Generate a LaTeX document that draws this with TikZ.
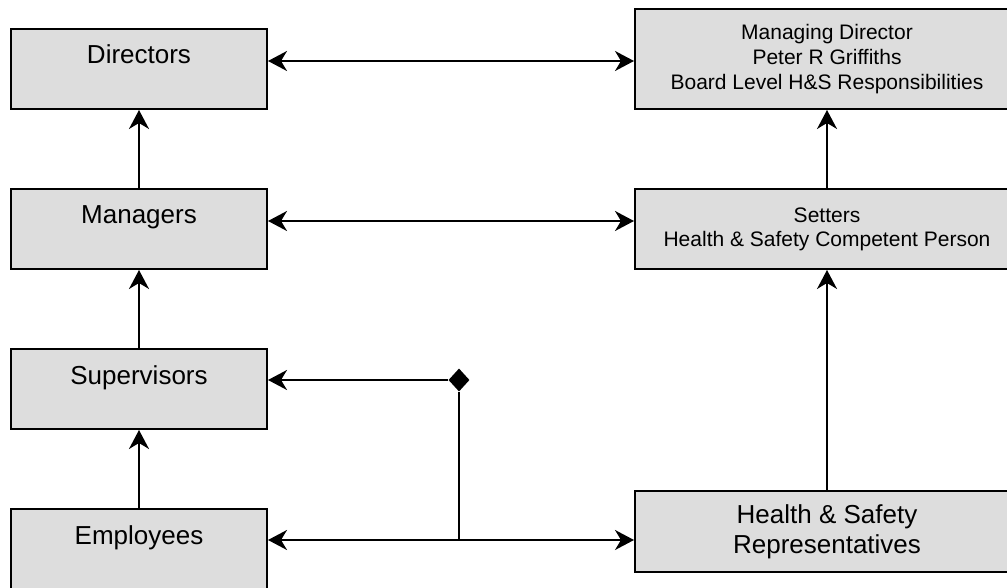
\documentclass[tikz,border=0pt]{standalone}
\usepackage{fontspec}
\setmainfont{Liberation Sans}
\usetikzlibrary{arrows.meta,shapes.geometric}
\definecolor{boxfill}{RGB}{221,221,221}
\begin{document}
\begin{tikzpicture}[x=1pt,y=-1pt,
  box/.style={draw=black, line width=2pt, fill=boxfill, inner sep=0pt, align=center},
  lbox/.style={box, minimum width=256pt, text height=35pt, text depth=45pt, font=\fontsize{26}{30}\selectfont},
  rbox/.style={box, minimum width=384pt},
  conn/.style={line width=2pt, draw=black},
  >={Stealth[length=19pt,width=20pt,inset=6pt]}]
\useasboundingbox (0,0) rectangle (1007,588);
\clip (0,0) rectangle (1007,588);
% left column
\node[lbox] (dir) at (139,69) {Directors};
\node[lbox] (man) at (139,229) {Managers};
\node[lbox] (sup) at (139,389) {Supervisors};
\node[lbox] (emp) at (139,549) {Employees};
% right column
\node[rbox, minimum height=100pt, font=\fontsize{21}{25}\selectfont] (md) at (827,59)
  {Managing Director\\Peter R Griffiths\\Board Level H\&S Responsibilities};
\node[rbox, minimum height=80pt, font=\fontsize{21}{24}\selectfont] (set) at (827,229)
  {Setters\\Health \& Safety Competent Person};
\node[rbox, minimum height=81pt, font=\fontsize{26}{30}\selectfont] (hs) at (827,531.5)
  {Health \& Safety\\Representatives};
% vertical arrows
\draw[conn,->] (man) -- (dir);
\draw[conn,->] (sup) -- (man);
\draw[conn,->] (emp) -- (sup);
\draw[conn,->] (set) -- (md);
\draw[conn,->] (hs) -- (set);
% horizontal arrows
\coordinate (y1) at (0,61);
\coordinate (y2) at (0,221);
\coordinate (J) at (459,540);
\draw[conn,<->] (dir.east |- y1) -- (md.west |- y1);
\draw[conn,<->] (man.east |- y2) -- (set.west |- y2);
\draw[conn,<->] (emp.east |- J) -- (hs.west |- J);
\node[diamond, fill=black, inner sep=0pt, minimum width=21pt, minimum height=23pt] (dia) at (459,380) {};
\draw[conn] (J) -- (dia);
\draw[conn,->] (dia) -- (sup.east |- dia);
\end{tikzpicture}
\end{document}
